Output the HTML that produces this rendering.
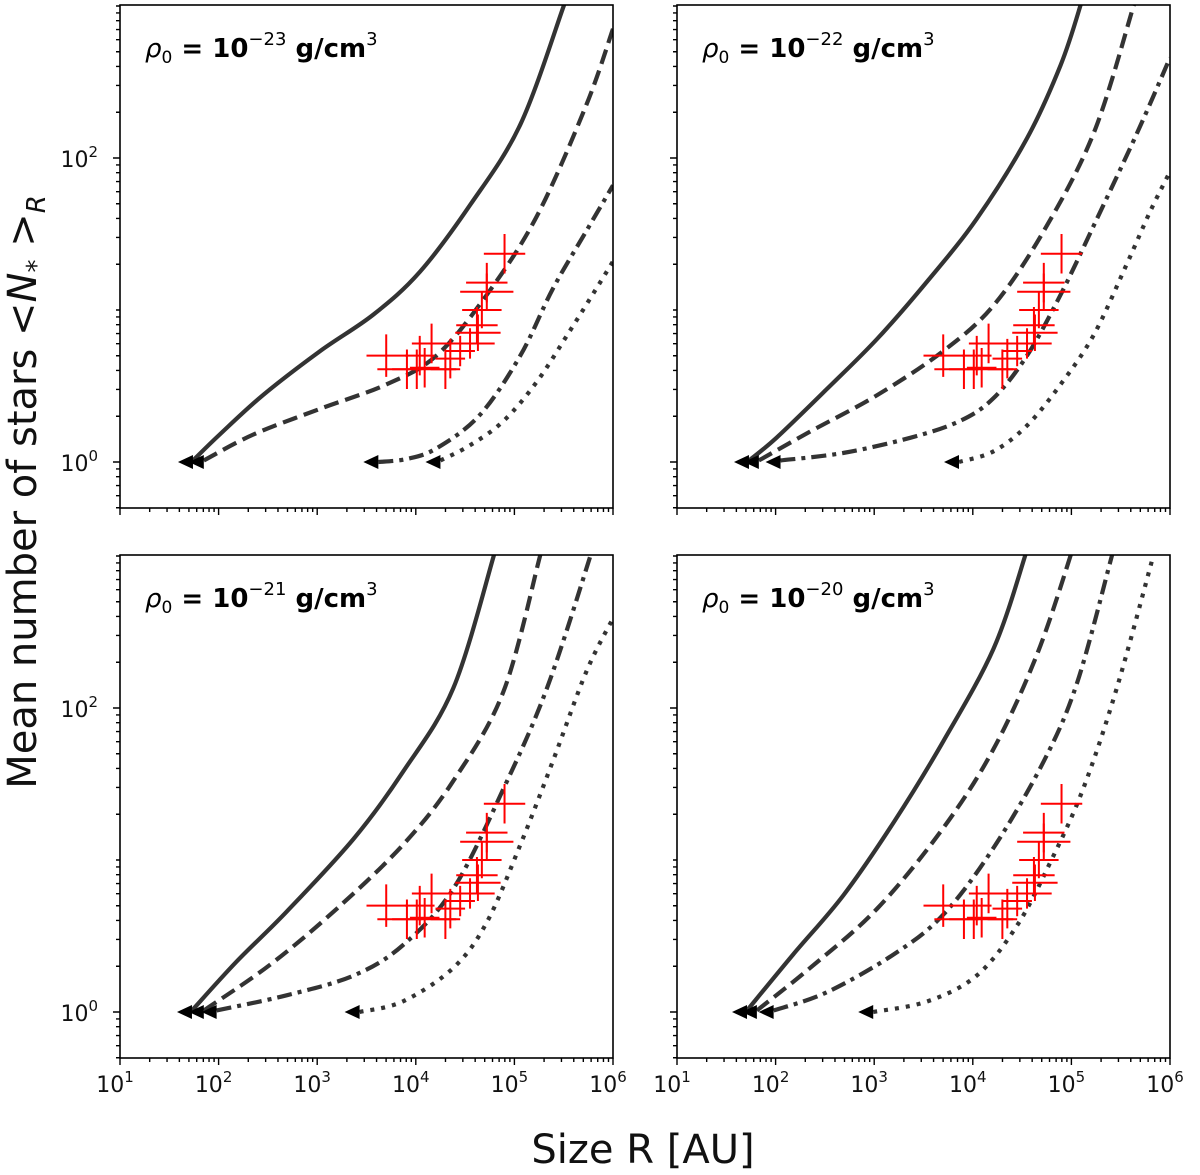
<!DOCTYPE html>
<html><head><meta charset="utf-8"><style>
body{margin:0;background:#fff;}
svg{display:block;font-family:"DejaVu Sans","Liberation Sans",sans-serif;}
</style></head><body>
<svg id="chart" width="1200" height="1175" viewBox="0 0 1200 1175" xmlns="http://www.w3.org/2000/svg">
<defs></defs>
<text x="0" y="0" transform="translate(36,492) rotate(-90)" text-anchor="middle" font-size="40" fill="#111">Mean number of stars  &lt;<tspan font-style="italic">N</tspan><tspan font-size="26" dy="9">*</tspan><tspan dy="-9"> &gt;</tspan><tspan font-style="italic" font-size="26" dy="9">R</tspan></text>
<text x="643" y="1163" text-anchor="middle" font-size="40" fill="#111">Size R [AU]</text>
</svg>
<script>
const panelExps = [-23, -22, -21, -20];
// curves: [logR, logN] per panel
const p1Solid = [[1.74,0.01],[2.01,0.18],[2.45,0.44],[3.03,0.73],[3.57,0.97],[4.04,1.25],[4.55,1.69],[5.06,2.22],[5.5,3.0],[5.55,3.1]];
const p1Dash = [[1.85,0.01],[2.35,0.18],[3.03,0.35],[3.7,0.51],[4.21,0.70],[4.72,1.10],[5.23,1.62],[5.73,2.35],[6.0,2.85]];
const p1DashDot = [[3.62,0.0],[3.91,0.02],[4.21,0.09],[4.65,0.31],[5.06,0.70],[5.39,1.14],[5.73,1.52],[6.0,1.82]];
const p1Dot = [[4.25,0.01],[4.55,0.11],[4.89,0.27],[5.23,0.53],[5.56,0.86],[5.83,1.14],[6.0,1.32]];
const p2Solid = [[1.73,0.01],[2.01,0.16],[2.52,0.48],[3.03,0.81],[3.54,1.19],[4.04,1.60],[4.55,2.13],[4.89,2.61],[5.09,3.0],[5.12,3.1]];
const p2Dash = [[1.83,0.01],[2.35,0.2],[3.03,0.44],[3.70,0.73],[4.21,1.03],[4.72,1.52],[5.23,2.17],[5.63,3.0],[5.67,3.1]];
const p2DashDot = [[2.05,0.01],[2.69,0.06],[3.37,0.16],[3.87,0.27],[4.21,0.42],[4.55,0.70],[4.89,1.10],[5.23,1.56],[5.67,2.17],[6.0,2.66]];
const p2Dot = [[3.86,0.0],[4.21,0.07],[4.55,0.24],[4.89,0.51],[5.23,0.84],[5.56,1.30],[5.80,1.65],[6.0,1.91]];
const p3Solid = [[1.73,0.01],[2.18,0.33],[2.69,0.66],[3.37,1.14],[3.87,1.58],[4.38,2.13],[4.79,3.0],[4.82,3.1]];
const p3Dash = [[1.85,0.01],[2.52,0.31],[3.20,0.68],[3.87,1.10],[4.38,1.52],[4.89,2.11],[5.26,3.0],[5.3,3.1]];
const p3DashDot = [[1.98,0.01],[2.69,0.11],[3.37,0.24],[3.87,0.44],[4.38,0.81],[4.89,1.47],[5.33,2.13],[5.77,3.0],[5.8,3.1]];
const p3Dot = [[3.43,0.0],[3.87,0.07],[4.38,0.29],[4.72,0.59],[5.06,1.10],[5.39,1.65],[5.73,2.24],[6.0,2.59]];
const p4Solid = [[1.71,0.01],[2.18,0.38],[2.69,0.77],[3.20,1.25],[3.70,1.78],[4.21,2.39],[4.53,3.0],[4.56,3.1]];
const p4Dash = [[1.81,0.01],[2.35,0.29],[3.03,0.68],[3.70,1.21],[4.21,1.73],[4.65,2.35],[4.99,3.0],[5.02,3.1]];
const p4DashDot = [[1.98,0.01],[2.52,0.13],[3.20,0.38],[3.70,0.64],[4.21,1.08],[4.72,1.65],[5.06,2.17],[5.41,3.0],[5.45,3.1]];
const p4Dot = [[2.99,0.0],[3.54,0.07],[4.04,0.24],[4.45,0.57],[4.79,0.99],[5.12,1.47],[5.46,2.13],[5.83,3.0],[5.87,3.1]];
const panelCurves = [[p1Solid,p1Dash,p1DashDot,p1Dot],[p2Solid,p2Dash,p2DashDot,p2Dot],[p3Solid,p3Dash,p3DashDot,p3Dot],[p4Solid,p4Dash,p4DashDot,p4Dot]];
// observed clusters (log R, log N) with errors in dex
const obsLogR = [4.90,4.72,4.72,4.67,4.62,4.63,4.55,4.16,3.70,4.04,4.45,4.01,3.91,4.30,4.35,4.09];
const obsLogN = [1.37,1.18,1.12,1.00,0.90,0.85,0.78,0.78,0.70,0.70,0.73,0.61,0.61,0.61,0.68,0.62];
const obsErrR = [0.21,0.21,0.27,0.2,0.21,0.23,0.25,0.2,0.2,0.15,0.15,0.4,0.15,0.15,0.15,0.15];
const obsErrN = [0.13,0.13,0.12,0.12,0.12,0.12,0.1,0.13,0.14,0.13,0.1,0.13,0.13,0.13,0.13,0.13];
const xTickExps = [1,2,3,4,5,6];
const yTickExps = [0,2];

const NS = "http://www.w3.org/2000/svg";
const svg = document.getElementById('chart');
const origins = [[120,5],[677,5],[120,555],[677,555]];
const PW = 493, PH = 503, XD = 98.6, YD = 152;
function mk(tag, attrs, parent){const e=document.createElementNS(NS,tag);for(const k in attrs)e.setAttribute(k,attrs[k]);(parent||svg).appendChild(e);return e;}
function smooth(pts){let d='M'+pts[0][0]+','+pts[0][1];for(let i=0;i<pts.length-1;i++){const p0=pts[Math.max(0,i-1)],p1=pts[i],p2=pts[i+1],p3=pts[Math.min(pts.length-1,i+2)];const c1=[p1[0]+(p2[0]-p0[0])/6,p1[1]+(p2[1]-p0[1])/6],c2=[p2[0]-(p3[0]-p1[0])/6,p2[1]-(p3[1]-p1[1])/6];d+=' C'+c1[0]+','+c1[1]+' '+c2[0]+','+c2[1]+' '+p2[0]+','+p2[1];}return d;}
const dashes = ['none','15,7','15,6,4,6','4,7'];
const names = ['solid-curve','dashed-curve','dashdot-curve','dotted-curve'];
origins.forEach((o,pi)=>{
  const x0=o[0], y0=o[1];
  const sx = lx => x0 + (lx-1)*XD;
  const sy = ly => y0 + 457 - ly*YD;
  const g = mk('g',{});
  
  
  const cp = mk('clipPath',{id:'cp'+pi}, svg.querySelector('defs'));
  mk('rect',{x:x0,y:y0,width:PW,height:PH},cp);
  const cg = mk('g',{'clip-path':'url(#cp'+pi+')'},g);
  panelCurves[pi].forEach((c,ci)=>{
    const pts = c.map(p=>[sx(p[0]),sy(p[1])]);
    const path = mk('path',{d:smooth(pts),fill:'none',stroke:'#333','stroke-width':4.2,'stroke-dasharray':dashes[ci]},cg);
    
    
    const ax=pts[0][0], ay=sy(0);
    const tri = mk('path',{d:`M${ax-15},${ay} L${ax},${ay-7} L${ax},${ay+7} Z`,fill:'#000'},g);
    
    
  });
  obsLogR.forEach((lr,i)=>{
    const ln=obsLogN[i];
    const cr = mk('path',{d:`M${sx(lr-obsErrR[i])},${sy(ln)} H${sx(lr+obsErrR[i])} M${sx(lr)},${sy(ln+obsErrN[i])} V${sy(ln-obsErrN[i])}`,stroke:'#f00','stroke-width':2,fill:'none'},cg);
    
    
  });
  const fr = mk('rect',{x:x0,y:y0,width:PW,height:PH,fill:'none',stroke:'#000','stroke-width':1.6},g);
  
  
  let td='';
  for(let e=1;e<=6;e++){const x=sx(e);td+=`M${x},${y0+PH} v7 `;if(e<6)for(let m=2;m<=9;m++){const xm=sx(e+Math.log10(m));td+=`M${xm},${y0+PH} v4 `;}}
  for(let e=-1;e<=3;e++){for(let m=1;m<=9;m++){const l=e+Math.log10(m);if(l<-0.31||l>3.01)continue;const y=sy(l);td+= (m==1 && yTickExps.includes(e)) ? `M${x0},${y} h-7 ` : `M${x0},${y} h-4 `;}}
  const tk=mk('path',{d:td,stroke:'#000','stroke-width':1.4,fill:'none'},g);
  
  
  if(pi>=2){
    xTickExps.forEach(e=>{
      const t=mk('text',{x:sx(e)-5,y:y0+PH+34,'text-anchor':'middle','font-size':22,fill:'#111'},g);
      t.innerHTML=`10<tspan font-size="15" dy="-10">${e}</tspan>`;
      
      
    });
  }
  if(pi%2==0){
    yTickExps.forEach(e=>{
      const t=mk('text',{x:x0-22,y:sy(e)+9,'text-anchor':'end','font-size':22,fill:'#111'},g);
      t.innerHTML=`10<tspan font-size="15" dy="-10">${e}</tspan>`;
      
      
    });
  }
  const tt=mk('text',{x:x0+25,y:y0+52,'font-size':26,fill:'#000'},g);
  tt.innerHTML=`<tspan font-style="italic">ρ</tspan><tspan font-size="17" dy="6">0</tspan><tspan dy="-6" font-weight="bold"> = 10</tspan><tspan font-size="18" dy="-12">−${-panelExps[pi]}</tspan><tspan dy="12" font-weight="bold"> g/cm</tspan><tspan font-size="18" dy="-12">3</tspan>`;
  
  
});
</script>
</body></html>
